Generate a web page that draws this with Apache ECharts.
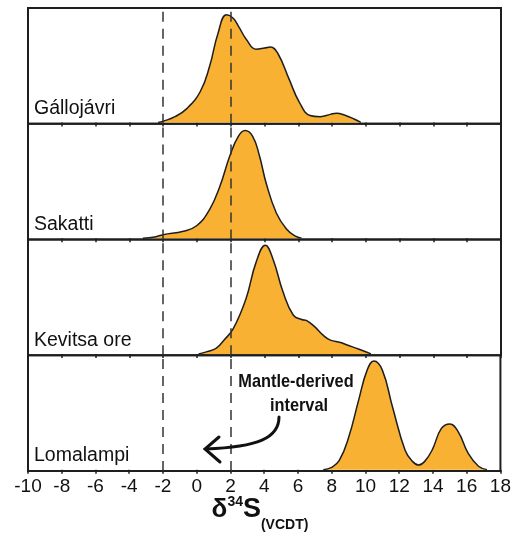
<!DOCTYPE html>
<html><head><meta charset="utf-8">
<script src="https://cdn.jsdelivr.net/npm/echarts@6/dist/echarts.min.js"></script>
<style>html,body{margin:0;padding:0;background:#fff}#c{width:514px;height:533px}</style>
</head><body><div id="c"></div>
<script>
// ---- data ----
const panelNames = ['Gállojávri', 'Sakatti', 'Kevitsa ore', 'Lomalampi'];
const xMin = -10, xMax = 18, xStep = 2;
const mantleInterval = [-2, 2];
const gallojavri = [[-2.3,0],[-2.0,0.01],[-1.3,0.05],[-0.6,0.12],[0.2,0.27],[0.75,0.49],[1.25,0.78],[1.75,0.94],[2.15,0.91],[2.5,0.83],[2.95,0.72],[3.5,0.64],[4.0,0.65],[4.35,0.66],[4.8,0.6],[5.45,0.38],[6.05,0.18],[6.7,0.06],[7.3,0.05],[7.9,0.07],[8.25,0.08],[8.8,0.06],[9.3,0.03],[9.7,0]];
const sakatti = [[-3.2,0],[-2.5,0.01],[-2.0,0.03],[-0.8,0.06],[0.0,0.11],[0.75,0.25],[1.35,0.45],[1.95,0.72],[2.45,0.89],[2.85,0.94],[3.3,0.89],[3.7,0.72],[4.1,0.48],[4.7,0.22],[5.3,0.08],[5.8,0.02],[6.2,0]];
const kevitsa = [[0.1,0],[0.6,0.02],[1.15,0.05],[1.6,0.12],[2.15,0.22],[2.9,0.48],[3.5,0.8],[4.05,0.95],[4.5,0.83],[5.1,0.54],[5.7,0.34],[6.2,0.3],[6.5,0.29],[6.95,0.24],[7.5,0.16],[7.9,0.12],[8.5,0.1],[8.85,0.08],[9.6,0.04],[10.3,0]];
const lomalampi = [[7.5,0],[8.0,0.02],[8.45,0.08],[9.0,0.28],[9.6,0.61],[10.1,0.87],[10.5,0.95],[11.0,0.87],[11.6,0.55],[12.35,0.17],[12.8,0.07],[13.15,0.04],[13.5,0.07],[13.95,0.17],[14.5,0.36],[15.0,0.40],[15.5,0.33],[16.1,0.14],[16.7,0.03],[17.2,0]];
const densities = [gallojavri, sakatti, kevitsa, lomalampi];
const annotationLines = ['Mantle-derived', 'interval'];

// ---- layout / style ----
const FAM = '"Liberation Sans", Arial, Helvetica, sans-serif';
const GRID_LEFT = 28, GRID_RIGHT = 13, GRID_TOP = 8, PANEL_H = 115.75;
const INK = '#1e1e1e', FILL = '#F8B133';

const chart = echarts.init(document.getElementById('c'), null, {renderer: 'canvas'});
const grids = [], xAxes = [], yAxes = [], series = [], graphics = [];
densities.forEach((d, i) => {
  const top = GRID_TOP + i * PANEL_H;
  const last = i === densities.length - 1;
  grids.push({left: GRID_LEFT, right: GRID_RIGHT, top: top, height: PANEL_H, show: true,
    borderColor: INK, borderWidth: 2, backgroundColor: 'transparent'});
  xAxes.push({type: 'value', gridIndex: i, min: xMin, max: xMax, interval: xStep,
    axisLine: {show: false}, splitLine: {show: false},
    axisTick: {show: true, inside: false, length: 4, lineStyle: {color: INK, width: 1.5}},
    axisLabel: {show: last, fontSize: 19, color: '#111', fontFamily: FAM, margin: 6}});
  yAxes.push({type: 'value', gridIndex: i, min: -0.012, max: 1, show: false});
  series.push({type: 'line', xAxisIndex: i, yAxisIndex: i, data: d, smooth: 0.45,
    symbol: 'none', lineStyle: {color: INK, width: 1.5}, areaStyle: {color: FILL, opacity: 1, origin: 0},
    markLine: {silent: true, symbol: ['none', 'none'], label: {show: false},
      lineStyle: {type: [10, 7], color: '#333', width: 1.5},
      data: mantleInterval.map(v => ({xAxis: v}))}});
  graphics.push({type: 'text', z: 10, style: {text: panelNames[i], x: GRID_LEFT + 6,
    y: top + PANEL_H - 15, font: '19.5px ' + FAM, fill: '#111',
    verticalAlign: 'middle', textVerticalAlign: 'middle'}});
});

// annotation text + arrow (condensed bold)
[[annotationLines[0], 296, 382], [annotationLines[1], 299, 406]].forEach(([t, x, y]) => {
  graphics.push({type: 'text', z: 10, x: x, y: y, scaleX: 0.86, scaleY: 1,
    style: {text: t, x: 0, y: 0, font: 'bold 19px ' + FAM, fill: '#111', align: 'center', textAlign: 'center',
      verticalAlign: 'middle', textVerticalAlign: 'middle'}});
});
graphics.push({type: 'bezierCurve', z: 10, shape: {x1: 279, y1: 417, cpx1: 279, cpy1: 438, cpx2: 258, cpy2: 447, x2: 206, y2: 449},
  style: {stroke: '#111', lineWidth: 3, fill: null, lineCap: 'round'}});
graphics.push({type: 'polyline', z: 10, shape: {points: [[219, 437], [205, 449], [220, 462]]},
  style: {stroke: '#111', lineWidth: 3, fill: null, lineCap: 'round', lineJoin: 'miter'}});

// axis title δ34S(VCDT)
const ctx = document.createElement('canvas').getContext('2d');
const parts = [
  {t: 'δ', f: 'bold 26px ' + FAM, base: 518},
  {t: '34', f: 'bold 14px ' + FAM, base: 507},
  {t: 'S', f: 'bold 27px ' + FAM, base: 518},
  {t: '(VCDT)', f: 'bold 14px ' + FAM, base: 530}
];
let total = 0;
parts.forEach(p => { ctx.font = p.f; p.w = ctx.measureText(p.t).width; total += p.w; });
let cx = 260 - total / 2;
parts.forEach(p => {
  const size = parseFloat(p.f.split(' ')[1]);
  graphics.push({type: 'text', z: 10, style: {text: p.t, x: cx, y: p.base - 0.33 * size, font: p.f, fill: '#111',
    verticalAlign: 'middle', textVerticalAlign: 'middle'}});
  cx += p.w;
});

chart.setOption({animation: false, backgroundColor: '#fff', grid: grids, xAxis: xAxes, yAxis: yAxes,
  series: series, graphic: graphics});
</script></body></html>
